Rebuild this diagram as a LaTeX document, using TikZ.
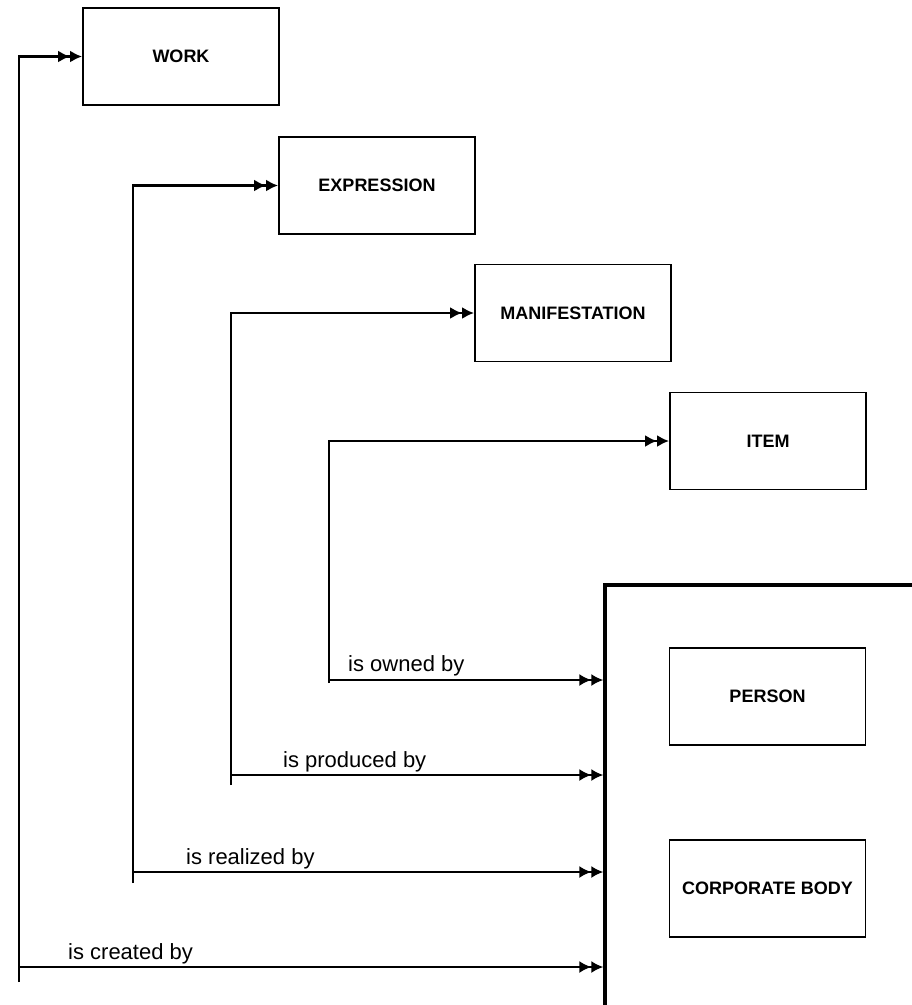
\documentclass[tikz,border=0pt]{standalone}
\usepackage{fontspec}
\setmainfont{Liberation Sans}
\usetikzlibrary{arrows.meta}

\tikzset{
  entity/.style={draw, line width=1.8pt, minimum width=196pt, minimum height=97pt, inner sep=0pt,
    font=\fontsize{18}{21}\selectfont\bfseries},
  dbl/.style={-{Latex[length=12pt,width=12pt,sep=0pt]Latex[length=12pt,width=12pt]}},
  link/.style={dbl, line width=2.6pt},
  rel/.style={dbl, line width=1.8pt},
  lbl/.style={anchor=base west, inner sep=0pt, font=\fontsize{22}{25}\selectfont}
}

\begin{document}
\begin{tikzpicture}[x=1pt, y=-1pt]

\useasboundingbox (0,0) rectangle (912,1005);
\clip (0,0) rectangle (912,1005);

% group 1 entities
\node[entity] (work) at (181,56.5) {WORK};
\node[entity] (expression) at (377,185.5) {EXPRESSION};
\node[entity] (manifestation) at (573,313) {MANIFESTATION};
\node[entity] (item) at (768,441) {ITEM};

% group 2 entities
\node[draw, line width=3.4pt, minimum width=400pt, minimum height=500pt] (agent) at (805,835) {};
\node[entity] (person) at (767.5,696.5) {PERSON};
\node[entity] (corporate) at (767.5,888.5) {CORPORATE BODY};

% corners of the connectors
\coordinate (cw) at (19,982);
\coordinate (ce) at (133,883);
\coordinate (cm) at (231,785);
\coordinate (ci) at (329,683);

\coordinate (rw) at (19,967);
\coordinate (re) at (133,872);
\coordinate (rm) at (231,775);
\coordinate (ri) at (329,680);

\draw[link] (cw) |- (work.west);
\draw[link] (ce) |- (expression.west);
\draw[link] (cm) |- (manifestation.west);
\draw[link] (ci) |- (item.west);

\draw[rel] (rw) -- (rw -| agent.west);
\draw[rel] (re) -- (re -| agent.west);
\draw[rel] (rm) -- (rm -| agent.west);
\draw[rel] (ri) -- (ri -| agent.west);

\node[lbl] (created) at ([shift={(49,-8)}]rw) {is created by};
\node[lbl] (realized) at ([shift={(53,-8)}]re) {is realized by};
\node[lbl] (produced) at ([shift={(52,-8)}]rm) {is produced by};
\node[lbl] (owned) at ([shift={(19,-9)}]ri) {is owned by};

\end{tikzpicture}
\end{document}
